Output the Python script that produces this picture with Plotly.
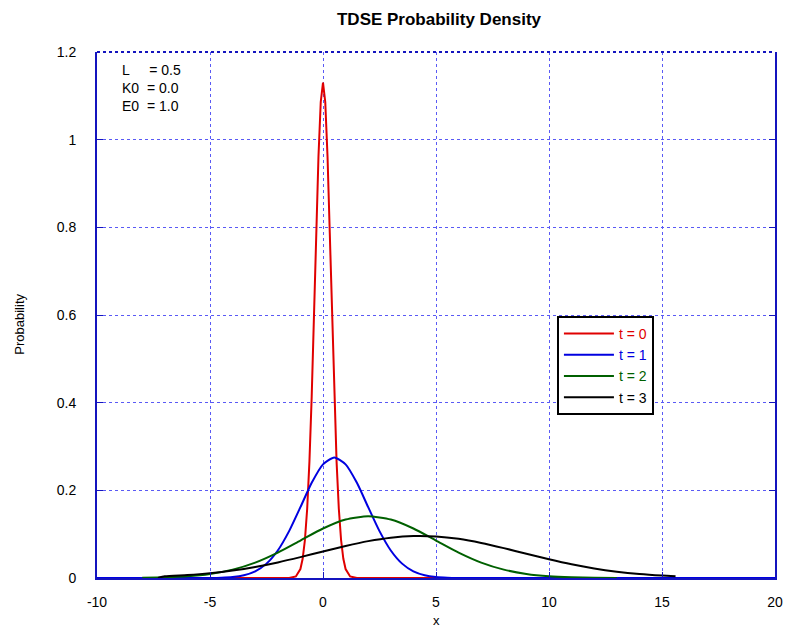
import plotly.graph_objects as go

# ---- data ----
x_t0 = [-10, -1.5, -1.2, -1.0, -0.9, -0.8, -0.7, -0.6, -0.5, -0.4, -0.3, -0.2, -0.1, 0.0,
        0.1, 0.2, 0.3, 0.4, 0.5, 0.6, 0.7, 0.8, 0.9, 1.0, 1.2, 1.5, 20]
y_t0 = [0.0, 0.0001, 0.0035, 0.0204, 0.0438, 0.0867, 0.158, 0.266, 0.414, 0.595, 0.787, 0.962, 1.086, 1.13,
        1.086, 0.962, 0.787, 0.595, 0.414, 0.266, 0.158, 0.0867, 0.0438, 0.0204, 0.0035, 0.0001, 0.0]

x_t1 = [-10, -5.5, -5, -4.5, -4, -3.5, -3, -2.5, -2, -1.5, -1, -0.5, 0, 0.5,
        1, 1.5, 2, 2.5, 3, 3.5, 4, 4.5, 5, 5.5, 6, 6.5, 20]
y_t1 = [0.0, 0.0, 0.0002, 0.00075, 0.0023, 0.0063, 0.0152, 0.0328, 0.0628, 0.1069, 0.1616, 0.2171, 0.2592, 0.275,
        0.2592, 0.2171, 0.1616, 0.1069, 0.0628, 0.0328, 0.0152, 0.0063, 0.0023, 0.00075, 0.0002, 0.0, 0.0]

x_t2 = [-8, -7, -6, -5, -4, -3, -2, -1, 0, 1, 2, 3, 4, 5, 6, 7, 8, 9, 10, 11, 12, 13]
y_t2 = [0.0004, 0.0016, 0.0040, 0.0093, 0.0191, 0.0352, 0.0580, 0.0855, 0.1129, 0.1334, 0.141,
        0.1334, 0.1129, 0.0855, 0.0580, 0.0352, 0.0191, 0.0093, 0.0040, 0.0016, 0.0006, 0.0002]

x_t3 = [-7.3, -7, -6, -5, -4, -3, -2, -1, 0, 1, 2, 3, 4, 5, 6, 7, 8, 9, 10, 11, 12, 13, 14, 15, 15.6]
y_t3 = [0.0, 0.0039, 0.0068, 0.0111, 0.0172, 0.0253, 0.0356, 0.0476, 0.0605, 0.0731, 0.0841, 0.0920, 0.0958,
        0.0948, 0.0893, 0.0800, 0.0682, 0.0553, 0.0426, 0.0312, 0.0218, 0.0145, 0.0091, 0.0055, 0.0039]

series_names = ["t = 0", "t = 1", "t = 2", "t = 3"]
series_colors = ["#e00000", "#0000e0", "#006000", "#000000"]
info_lines = ["L\u00a0\u00a0\u00a0\u00a0\u00a0= 0.5", "K0\u00a0\u00a0= 0.0", "E0\u00a0\u00a0= 1.0"]

x_ticks = [-10, -5, 0, 5, 10, 15, 20]
y_ticks = [0, 0.2, 0.4, 0.6, 0.8, 1.0, 1.2]
y_tick_text = ["0", "0.2", "0.4", "0.6", "0.8", "1", "1.2"]

FONT = "Liberation Sans, Arial, sans-serif"
GRID = "rgb(90,90,245)"
AXIS = "rgb(20,20,190)"

fig = go.Figure()
xs = [x_t0, x_t1, x_t2, x_t3]
ys = [y_t0, y_t1, y_t2, y_t3]
for xv, yv, nm, col in zip(xs, ys, series_names, series_colors):
    fig.add_trace(go.Scatter(
        x=xv, y=yv, mode="lines",
        line=dict(color=col, width=2, shape="spline" if nm != "t = 0" else "linear", smoothing=0.6),
        name=f"<span style='color:{col}'>{nm}</span>",
    ))

fig.update_layout(
    width=795, height=632,
    margin=dict(l=97, r=14, t=52, b=54),
    paper_bgcolor="white", plot_bgcolor="white",
    font=dict(family=FONT, size=14, color="black"),
    title=dict(text="<b>TDSE Probability Density</b>", x=(97 + 781) / 2 / 795, xanchor="center",
               y=1 - 19 / 632, yanchor="middle", font=dict(size=17, family=FONT)),
    showlegend=True,
    legend=dict(x=(561 - 97) / 684, y=(578 - 316) / 526, xanchor="left", yanchor="top",
                bordercolor="black", borderwidth=2, bgcolor="white",
                font=dict(size=14, family=FONT), itemwidth=50, tracegroupgap=0),
    xaxis=dict(range=[-10, 20], tickvals=x_ticks, ticktext=[str(v) for v in x_ticks],
               showgrid=True, gridcolor=GRID, griddash="dot", gridwidth=1,
               showline=True, linecolor=AXIS, linewidth=2, mirror=False,
               ticks="inside", ticklen=6, tickcolor=AXIS, zeroline=False,
               ticklabelstandoff=10, tickfont=dict(size=14)),
    yaxis=dict(range=[0, 1.2], tickvals=y_ticks, ticktext=y_tick_text,
               showgrid=True, gridcolor=GRID, griddash="dot", gridwidth=1,
               showline=True, linecolor=AXIS, linewidth=2, mirror="ticks",
               ticks="inside", ticklen=6, tickcolor=AXIS, zeroline=False,
               ticklabelstandoff=16, tickfont=dict(size=14)),
)

# dotted top border
fig.add_shape(type="line", xref="paper", yref="paper", x0=0, x1=1, y0=1, y1=1,
              line=dict(color=AXIS, width=2, dash="dot"))

# axis titles
fig.add_annotation(text="x", xref="paper", yref="paper", x=0.5, y=-(620 - 578) / 526,
                   xanchor="center", yanchor="middle", showarrow=False,
                   font=dict(size=13, family=FONT))
fig.add_annotation(text="Probability", xref="paper", yref="paper", x=-(97 - 18) / 684, y=(578 - 324) / 526,
                   xanchor="center", yanchor="middle", showarrow=False, textangle=-90,
                   font=dict(size=13, family=FONT))

for i, t in enumerate(info_lines):
    fig.add_annotation(text=t, xref="paper", yref="paper", x=(120 - 97) / 684,
                       y=1 - (18 + 18 * i) / 526, xanchor="left", yanchor="middle",
                       showarrow=False, font=dict(size=14, family=FONT, color="black"))

fig.write_html("out.html")
